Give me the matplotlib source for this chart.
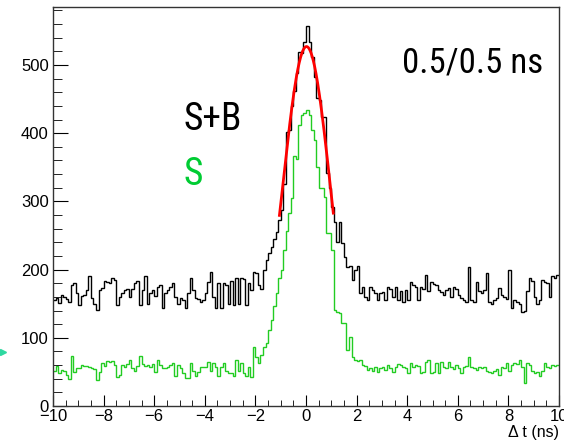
import matplotlib
matplotlib.use("Agg")
import matplotlib.pyplot as plt
from matplotlib.ticker import MultipleLocator
from matplotlib.lines import Line2D
import numpy as np

# histogram range / binning (ns)
t_min = -10.0
t_max = 10.0
n_bins = 200

# S+B histogram (black), bins of 0.1 ns from -10 to 10
sb_counts = [
    156, 158, 151, 163, 160, 157, 153, 177, 180, 165, 148, 161, 163, 170, 190, 158, 150, 141, 170, 173, 184, 182,
    180, 187, 185, 148, 160, 165, 170, 172, 160,
    172, 180, 184, 148, 170, 190, 150, 165, 170, 162,
    175, 178, 143, 165, 170, 175, 180, 160, 150, 158,
    155, 144, 166, 188, 170, 158, 157, 152, 155,
    165, 182, 196, 160, 144, 180, 144, 180, 178, 150,
    184, 148, 188, 150, 188, 186, 148, 180, 170, 196,
    195, 178, 172, 200, 214, 224, 233, 245, 255, 273, 287,
    325, 402, 405, 440, 462, 488, 519, 518, 534, 557, 534, 512, 483, 452, 449, 424, 424, 341, 320, 292,
    270, 240, 270, 239, 219, 204, 205, 185, 200,
    205, 165, 175, 160, 155, 175, 170, 165, 155, 165, 167, 155, 175, 172, 160, 175, 155,
    168, 153, 170, 156, 182, 178, 175, 156, 175, 172,
    192, 168, 182, 179, 178, 170, 167, 163, 170, 173,
    160, 175, 172, 163, 158, 156, 153, 204, 156, 152,
    182, 168, 165, 170, 195, 153, 149, 156, 158, 173,
    163, 160, 157, 199, 144, 156, 153, 149, 138, 140,
    168, 187, 184, 160, 149, 156, 185, 182, 180, 160,
    190, 187, 192,
]

# S histogram (green)
s_counts = [
    52, 58, 48, 53, 52, 45, 40, 73, 50, 55, 56, 60, 59, 58, 57, 56, 54, 38, 50, 63, 58, 66,
    64, 66, 60, 43, 45, 60, 57, 62, 68,
    55, 52, 58, 73, 62, 58, 60, 57, 62, 50,
    68, 60, 55, 55, 57, 60, 63, 44, 60, 55,
    48, 41, 41, 63, 52, 44, 50, 57, 57,
    57, 65, 52, 63, 57, 44, 57, 63, 52, 48,
    48, 44, 68, 52, 63, 48, 44, 57, 42, 87,
    72, 63, 75, 87, 92, 111, 126, 146, 165, 188, 200,
    229, 256, 283, 305, 366, 362, 412, 427, 430, 434, 427, 405, 390, 351, 320, 320, 307, 253, 253, 229,
    141, 138, 136, 121, 121, 82, 101, 72, 67,
    66, 68, 60, 58, 53, 55, 52, 57, 50, 55, 57, 53, 60, 55, 50, 57, 62,
    60, 57, 55, 48, 63, 57, 60, 58, 48, 50,
    65, 68, 48, 50, 63, 48, 65, 57, 55, 65,
    57, 54, 60, 55, 48, 57, 59, 72, 57, 55,
    53, 57, 55, 57, 52, 50, 48, 52, 54, 46,
    57, 55, 63, 52, 60, 63, 61, 68, 57, 33,
    63, 60, 52, 48, 50, 44, 52, 63, 57, 55,
    60, 58, 60,
]

# gaussian fit on S+B
fit_amp = 527.0
fit_mean = 0.02
fit_sigma = 0.95
fit_lo = -1.05
fit_hi = 1.08

edges = np.linspace(t_min, t_max, n_bins + 1)

fig = plt.figure(figsize=(5.64, 4.41), dpi=100)
ax = fig.add_axes([53 / 564, 1 - 406 / 441, 506 / 564, 399 / 441])

ax.stairs(sb_counts, edges, color="black", lw=1.0, baseline=None)
ax.stairs(s_counts, edges, color="#22cc22", lw=1.0, baseline=None)

tf = np.linspace(fit_lo, fit_hi, 200)
ax.plot(tf, fit_amp * np.exp(-0.5 * ((tf - fit_mean) / fit_sigma) ** 2), color="red", lw=2)

ax.set_xlim(t_min, t_max)
ax.set_ylim(0, 585)

sans = ["Liberation Sans", "DejaVu Sans"]
ax.xaxis.set_major_locator(MultipleLocator(2))
ax.xaxis.set_minor_locator(MultipleLocator(0.5))
ax.yaxis.set_major_locator(MultipleLocator(100))
ax.yaxis.set_minor_locator(MultipleLocator(20))
ax.tick_params(which="both", direction="in", top=False, right=False, labelsize=12)
ax.tick_params(axis="x", which="major", length=8, pad=2)
ax.tick_params(axis="x", which="minor", length=4.5)
ax.tick_params(axis="y", which="major", length=11, pad=3)
ax.tick_params(axis="y", which="minor", length=6.5)
for lab in ax.get_xticklabels() + ax.get_yticklabels():
    lab.set_family(sans)

ax.set_xlabel("Δ t (ns)", loc="right", fontsize=11.5, labelpad=1, family=sans)
for s in ax.spines.values():
    s.set_linewidth(1.0)
    s.set_color("#333333")

narrow = ["Roboto Condensed", "Liberation Sans Narrow", "Roboto", "DejaVu Sans"]
ax.text(0.689, 0.837, "0.5/0.5 ns", transform=ax.transAxes, fontsize=25,
        family=narrow, stretch="condensed", va="baseline", ha="left")
ax.text(0.257, 0.692, "S+B", transform=ax.transAxes, fontsize=27,
        family=narrow, stretch="condensed", va="baseline", ha="left")
ax.text(0.257, 0.553, "S", transform=ax.transAxes, fontsize=27,
        family=narrow, stretch="condensed", va="baseline", ha="left", color="#00cc33")

# small cut-off marker at left edge
fig.add_artist(Line2D([3 / 564], [1 - 352 / 441], marker=">", color="#2ed8a0",
                      markersize=4, transform=fig.transFigure))

fig.savefig("out.png", dpi=100)
